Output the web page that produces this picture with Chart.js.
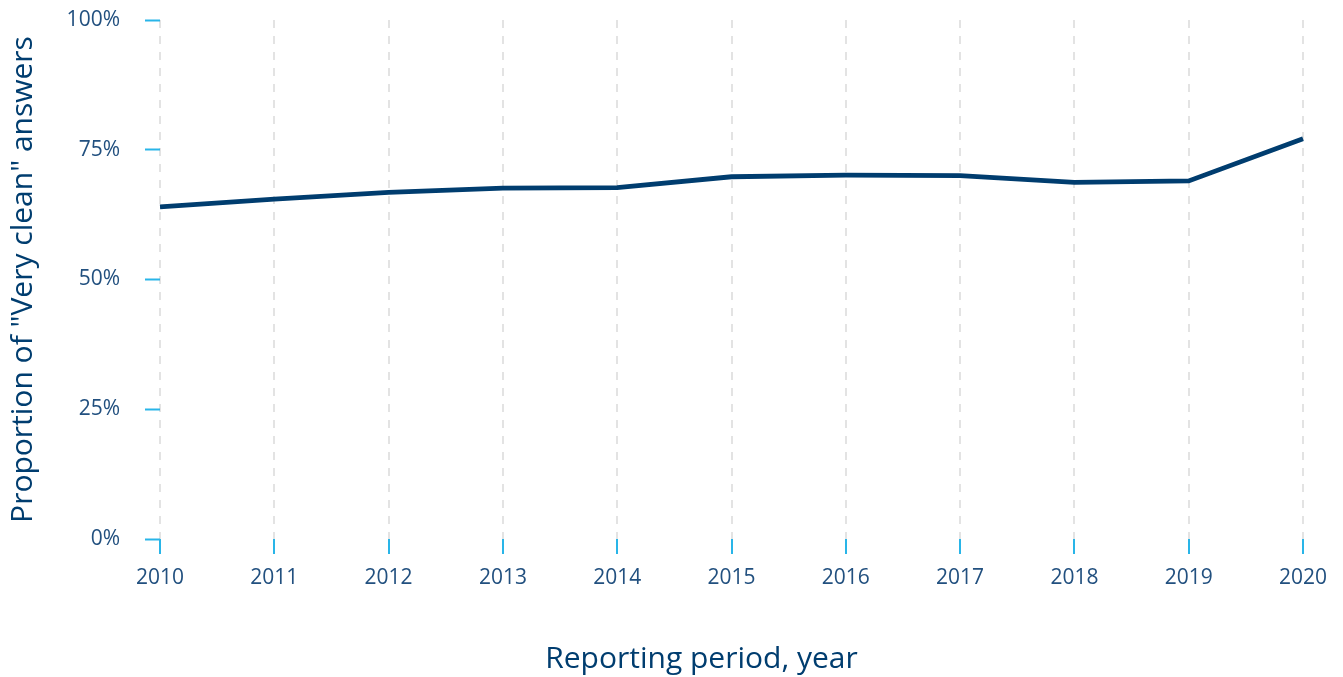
<!DOCTYPE html>
<html>
<head>
<meta charset="utf-8">
<script src="https://cdn.jsdelivr.net/npm/chart.js"></script>
<style>
  html, body { margin: 0; padding: 0; background: #fff; }
  #wrap { width: 1343px; height: 677px; }
</style>
</head>
<body>
<div id="wrap"><canvas id="dataChart" width="1343" height="677"></canvas></div>
<script>
// values
const years = ['2010', '2011', '2012', '2013', '2014', '2015', '2016', '2017', '2018', '2019', '2020'];
const veryClean = [64.0, 65.5, 66.8, 67.6, 67.7, 69.8, 70.1, 70.0, 68.7, 69.0, 77.1];
const yTicks = [0, 25, 50, 75, 100];

const navy = '#003d6f';
const labelBlue = '#22507f';
const cyan = '#29b5e8';
const fontFamily = '"Open Sans", "Noto Sans", sans-serif';

window.addEventListener('DOMContentLoaded', function() {
    const ctx = document.getElementById('dataChart').getContext('2d');
    new Chart(ctx, {
        type: 'line',
        data: {
            labels: years,
            datasets: [{
                label: 'Very clean',
                data: veryClean,
                borderColor: navy,
                borderWidth: 4.8,
                pointRadius: 0,
                fill: false,
                tension: 0
            }]
        },
        options: {
            responsive: false,
            animation: false,
            layout: { padding: { top: 20, right: 40, bottom: 0, left: 0 } },
            plugins: {
                legend: { display: false },
                tooltip: { enabled: false }
            },
            scales: {
                x: {
                    offset: false,
                    grid: {
                        color: '#e3e3e3',
                        lineWidth: 2,
                        drawTicks: true,
                        tickColor: cyan,
                        tickLength: 15,
                        tickWidth: 2
                    },
                    border: { display: false, dash: [8, 8] },
                    ticks: {
                        color: labelBlue,
                        padding: 11,
                        font: { family: fontFamily, size: 21 },
                        maxRotation: 0
                    },
                    title: {
                        display: true,
                        // trailing em spaces nudge the centred title a little left, as in the original
                        text: 'Reporting period, year\u2003\u2003',
                        color: navy,
                        font: { family: fontFamily, size: 30 },
                        padding: { top: 0, bottom: 0 }
                    },
                    afterFit: function(scale) { scale.height = 677 - 539; }
                },
                y: {
                    min: 0,
                    max: 100,
                    afterBuildTicks: function(scale) {
                        scale.ticks = yTicks.map(v => ({ value: v }));
                    },
                    grid: {
                        drawOnChartArea: false,
                        drawTicks: true,
                        tickColor: cyan,
                        tickLength: 15,
                        tickWidth: 2
                    },
                    border: { display: false },
                    ticks: {
                        color: labelBlue,
                        padding: 25,
                        font: { family: fontFamily, size: 21 },
                        callback: v => v + '%'
                    },
                    title: {
                        display: true,
                        text: 'Proportion of "Very clean" answers',
                        color: navy,
                        font: { family: fontFamily, size: 30 },
                        padding: { top: 5, bottom: 0 }
                    },
                    afterFit: function(scale) {
                        scale.width = 160;
                        // tick padding would otherwise push the plot top down
                        scale.paddingTop = 0;
                        scale.paddingBottom = 0;
                    }
                }
            }
        }
    });
});
</script>
</body>
</html>
